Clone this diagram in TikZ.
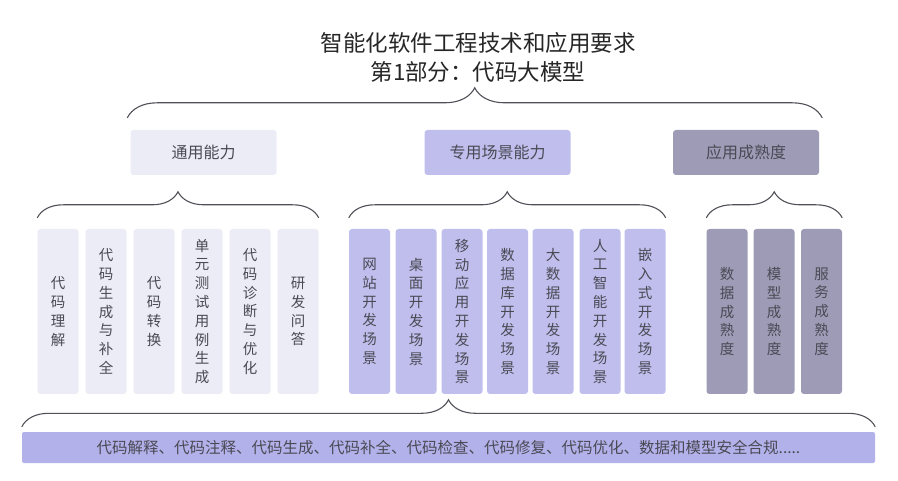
\documentclass[tikz,border=0pt]{standalone}
\usepackage{fontspec}
\setmainfont{Noto Sans CJK SC}
\usetikzlibrary{decorations.pathreplacing}

\definecolor{txtgray}{HTML}{4A4A55}
\definecolor{lightbox}{HTML}{ECECF7}
\definecolor{midbox}{HTML}{BFBEEC}
\definecolor{darkbox}{HTML}{9D9BB6}
\definecolor{barbox}{HTML}{B3B1EA}
\definecolor{brcgray}{HTML}{505058}

\tikzset{
    headbox/.style={rounded corners=3pt, minimum width=146pt, minimum height=45pt,
        text=txtgray, font=\fontsize{16}{18}\selectfont},
    colbox/.style={rounded corners=3pt, minimum width=41pt, minimum height=165pt,
        text=txtgray, align=center, font=\fontsize{14.5}{18.8}\selectfont},
    brc/.style={decorate, decoration={brace, amplitude=#1}, draw=brcgray, line width=1.1pt}
}

\begin{document}
\begin{tikzpicture}[x=1pt, y=-1pt]
        \useasboundingbox (0,0) rectangle (898,481);

        % Title
        \node[text=black!85, align=center, font=\fontsize{22.5}{29}\selectfont] (title) at (478,57)
            {智能化软件工程技术和应用要求\\第1部分：代码大模型};

        % Top level
        \node[headbox, fill=lightbox] (hdGen) at (203.5,152.5) {通用能力};
        \node[headbox, fill=midbox] (hdSpec) at (497.5,152.5) {专用场景能力};
        \node[headbox, fill=darkbox] (hdMat) at (746,152.5) {应用成熟度};

        % General abilities
        \node[colbox, fill=lightbox] (gA) at (58,311.5) {代\\码\\理\\解};
        \node[colbox, fill=lightbox] (gB) at (106,311.5) {代\\码\\生\\成\\与\\补\\全};
        \node[colbox, fill=lightbox] (gC) at (154,311.5) {代\\码\\转\\换};
        \node[colbox, fill=lightbox] (gD) at (202,311.5) {单\\元\\测\\试\\用\\例\\生\\成};
        \node[colbox, fill=lightbox] (gE) at (250,311.5) {代\\码\\诊\\断\\与\\优\\化};
        \node[colbox, fill=lightbox] (gF) at (298,311.5) {研\\发\\问\\答};

        % Scenario abilities
        \node[colbox, fill=midbox] (sA) at (369.5,311.5) {网\\站\\开\\发\\场\\景};
        \node[colbox, fill=midbox] (sB) at (416,311.5) {桌\\面\\开\\发\\场\\景};
        \node[colbox, fill=midbox] (sC) at (462,311.5) {移\\动\\应\\用\\开\\发\\场\\景};
        \node[colbox, fill=midbox] (sD) at (507.5,311.5) {数\\据\\库\\开\\发\\场\\景};
        \node[colbox, fill=midbox] (sE) at (553,311.5) {大\\数\\据\\开\\发\\场\\景};
        \node[colbox, fill=midbox] (sF) at (600,311.5) {人\\工\\智\\能\\开\\发\\场\\景};
        \node[colbox, fill=midbox] (sG) at (645,311.5) {嵌\\入\\式\\开\\发\\场\\景};

        % Maturity
        \node[colbox, fill=darkbox] (mA) at (727,311.5) {数\\据\\成\\熟\\度};
        \node[colbox, fill=darkbox] (mB) at (774,311.5) {模\\型\\成\\熟\\度};
        \node[colbox, fill=darkbox] (mC) at (821.5,311.5) {服\\务\\成\\熟\\度};

        % Bottom bar
        \node[rounded corners=2pt, fill=barbox, minimum width=853pt, minimum height=31pt,
            text=txtgray, font=\fontsize{15.5}{17}\selectfont] (bar) at (448.5,447.5)
            {代码解释、代码注释、代码生成、代码补全、代码检查、代码修复、代码优化、数据和模型安全合规.....};

        % Braces
        \draw[brc=30pt] ([shift={(-3pt,12pt)}]hdGen.north west) -- ([shift={(3pt,12pt)}]hdMat.north east);
        \draw[brc=26pt] ([yshift=11pt]gA.north west) -- ([yshift=11pt]gF.north east);
        \draw[brc=26pt] ([yshift=11pt]sA.north west) -- ([yshift=11pt]sG.north east);
        \draw[brc=26pt] ([yshift=11pt]mA.north west) -- ([yshift=11pt]mC.north east);
        \draw[brc=27pt] ([yshift=5pt]bar.north west) -- ([yshift=5pt]bar.north east);
    \end{tikzpicture}
\end{document}
